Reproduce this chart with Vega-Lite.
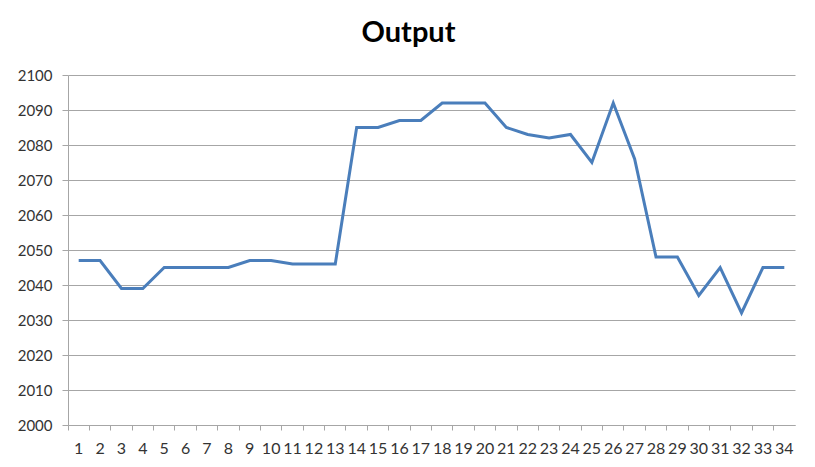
{
  "$schema": "https://vega.github.io/schema/vega-lite/v6.json",
  "description": "Output line chart, Excel style.",
  "autosize": {"type": "none"},
  "padding": {"left": 68, "top": 75, "right": 20, "bottom": 42},
  "width": 727,
  "height": 350,
  "background": "white",
  "title": {
    "text": "Output",
    "font": "Lato",
    "fontSize": 29,
    "fontWeight": "bold",
    "color": "#000000",
    "anchor": "middle",
    "dx": -23,
    "offset": 20
  },
  "data": {
    "values": [
      {"n": 1, "output": 2047},
      {"n": 2, "output": 2047},
      {"n": 3, "output": 2039},
      {"n": 4, "output": 2039},
      {"n": 5, "output": 2045},
      {"n": 6, "output": 2045},
      {"n": 7, "output": 2045},
      {"n": 8, "output": 2045},
      {"n": 9, "output": 2047},
      {"n": 10, "output": 2047},
      {"n": 11, "output": 2046},
      {"n": 12, "output": 2046},
      {"n": 13, "output": 2046},
      {"n": 14, "output": 2085},
      {"n": 15, "output": 2085},
      {"n": 16, "output": 2087},
      {"n": 17, "output": 2087},
      {"n": 18, "output": 2092},
      {"n": 19, "output": 2092},
      {"n": 20, "output": 2092},
      {"n": 21, "output": 2085},
      {"n": 22, "output": 2083},
      {"n": 23, "output": 2082},
      {"n": 24, "output": 2083},
      {"n": 25, "output": 2075},
      {"n": 26, "output": 2092},
      {"n": 27, "output": 2076},
      {"n": 28, "output": 2048},
      {"n": 29, "output": 2048},
      {"n": 30, "output": 2037},
      {"n": 31, "output": 2045},
      {"n": 32, "output": 2032},
      {"n": 33, "output": 2045},
      {"n": 34, "output": 2045}
    ]
  },
  "mark": {"type": "line", "color": "#4a7ebb", "strokeWidth": 3, "strokeJoin": "miter"},
  "encoding": {
    "x": {
      "field": "n",
      "type": "ordinal",
      "scale": {"type": "band", "paddingInner": 0, "paddingOuter": 0},
      "axis": {
        "title": null,
        "labelAngle": 0,
        "bandPosition": 0,
        "grid": false,
        "domainColor": "#a6a6a6",
        "tickColor": "#a6a6a6",
        "tickSize": 5,
        "labelPadding": 10,
        "labelFont": "Lato",
        "labelFontSize": 16,
        "labelColor": "#333333",
        "labelOverlap": false
      }
    },
    "y": {
      "field": "output",
      "type": "quantitative",
      "scale": {"domain": [2000, 2100], "zero": false, "nice": false},
      "axis": {
        "title": null,
        "values": [2000, 2010, 2020, 2030, 2040, 2050, 2060, 2070, 2080, 2090, 2100],
        "format": "d",
        "grid": true,
        "gridColor": "#a6a6a6",
        "gridWidth": 1,
        "domainColor": "#a6a6a6",
        "tickColor": "#a6a6a6",
        "tickSize": 6,
        "labelPadding": 10,
        "labelFont": "Lato",
        "labelFontSize": 15,
        "labelColor": "#333333"
      }
    }
  },
  "config": {
    "view": {"stroke": null}
  }
}
